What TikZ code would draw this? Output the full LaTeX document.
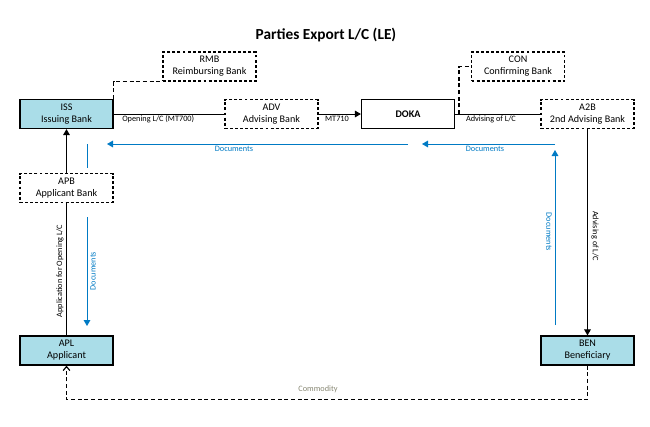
\documentclass[tikz,border=0pt]{standalone}
\usepackage{fontspec}
\setmainfont{Carlito}
\usetikzlibrary{arrows.meta}

\definecolor{partyblue}{RGB}{170,221,232}
\definecolor{docblue}{RGB}{0,122,196}
\definecolor{goodsgray}{RGB}{135,135,115}

\tikzset{
  party/.style={draw,line width=0.9pt,fill=partyblue,minimum width=69.75pt,minimum height=21.75pt,
    inner sep=1pt,align=center,font=\fontsize{7.6}{9}\selectfont},
  optparty/.style={party,fill=none,dash pattern=on 2.2pt off 1.6pt},
  system/.style={party,fill=none,font=\bfseries\fontsize{7.6}{9}\selectfont},
  flow/.style={line width=0.75pt},
  link/.style={line width=0.9pt,dash pattern=on 3pt off 2pt},
  docs/.style={line width=0.75pt,docblue},
  note/.style={inner sep=0pt,font=\fontsize{6.2}{7}\selectfont},
  tip/.style={-{Triangle[length=4.5pt,width=5pt]}}
}

\begin{document}
\begin{tikzpicture}[x=0.75pt,y=-0.75pt]
\useasboundingbox (0,0) rectangle (650,426);

\node (title) at (326,35)[font=\bfseries\fontsize{11.5}{13}\selectfont]{Parties Export L/C (LE)};

% parties
\node (iss) at (66.5,114)[party]{ISS\\Issuing Bank};
\node (rmb) at (209.5,66.5)[optparty]{RMB\\Reimbursing Bank};
\node (adv) at (271.5,114)[optparty]{ADV\\Advising Bank};
\node (doka) at (408,114)[system]{DOKA};
\node (con) at (518,66.5)[optparty]{CON\\Confirming Bank};
\node (atwob) at (587.5,114)[optparty]{A2B\\2nd Advising Bank};
\node (apb) at (66.5,188)[optparty]{APB\\Applicant Bank};
\node (apl) at (66.5,350.5)[party]{APL\\Applicant};
\node (ben) at (587.5,350.5)[party]{BEN\\Beneficiary};

% L/C messages
\draw[flow](iss) -- (adv);
\node (opening) at (122,119)[note,anchor=west]{Opening L/C (MT700)};
\draw[flow,tip](adv) -- (doka);
\node (mtsend) at (337,119)[note]{MT710};
\draw[flow](doka) -- (atwob);
\node (advising) at (491,119)[note]{Advising of L/C};
\draw[flow,tip](atwob) -- (ben);
\node (advisingben) at (595,236)[note,rotate=-90]{Advising of L/C};
\draw[flow,tip](apb) -- (iss);
\draw[flow](apl) -- (apb);
\node (application) at (60,271)[note,rotate=90]{Application for Opening L/C};

% optional banks
\draw[link](iss.north east) |- (rmb.south west);
\coordinate (conjoin) at (459,114);
\draw[link](conjoin) |- (con.west);

% documents
\coordinate (docbena) at (555,325);
\coordinate (docbenb) at (555,150);
\coordinate (docrighta) at (555,144);
\coordinate (docrightb) at (422,144);
\coordinate (doclefta) at (408,144);
\coordinate (docleftb) at (107,144);
\coordinate (docapla) at (87,144);
\coordinate (docaplb) at (87,168);
\coordinate (docaplc) at (87,217);
\coordinate (docapld) at (87,326);
\draw[docs,tip](docbena) -- (docbenb);
\node (docben) at (549,232)[note,docblue,rotate=-90]{Documents};
\draw[docs,tip](docrighta) -- (docrightb);
\node (docright) at (485,148.5)[note,docblue]{Documents};
\draw[docs,tip](doclefta) -- (docleftb);
\node (docleft) at (234,148.5)[note,docblue]{Documents};
\draw[docs](docapla) -- (docaplb);
\draw[docs,tip](docaplc) -- (docapld);
\node (docapl) at (93,271)[note,docblue,rotate=90]{Documents};

% goods
\draw[link,-{Straight Barb[length=3pt,width=5pt]}](ben.south) -- ++(0,34) -| (apl.south);
\node (commodity) at (318,389)[note,goodsgray]{Commodity};

\end{tikzpicture}
\end{document}
